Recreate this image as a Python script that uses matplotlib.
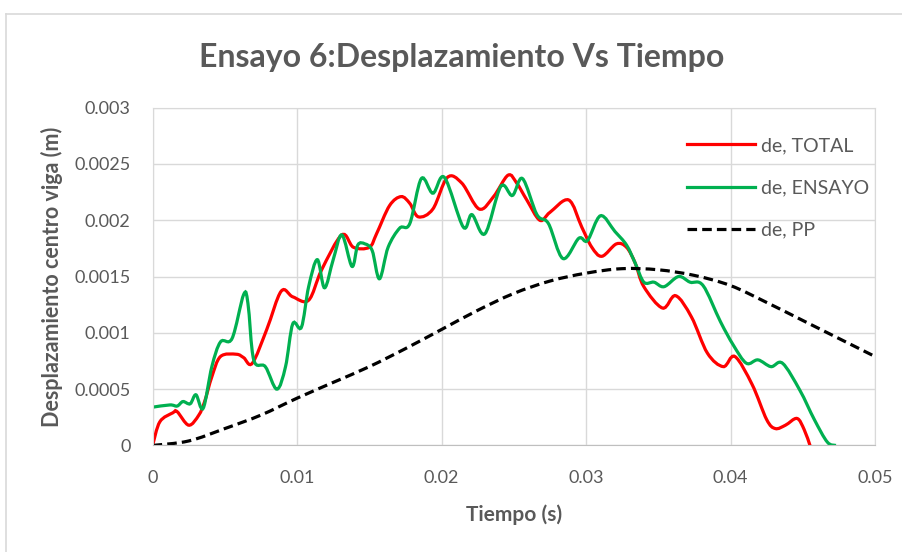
import numpy as np
import matplotlib
matplotlib.use("Agg")
import matplotlib.pyplot as plt
from matplotlib.path import Path
from matplotlib.patches import PathPatch
from matplotlib.lines import Line2D

# --- data ---
t_total = [0, 0.0005, 0.0014, 0.0017, 0.0025, 0.0032, 0.0036, 0.0041, 0.0047, 0.0058,
           0.0063, 0.0069, 0.0079, 0.0089, 0.0097, 0.0108, 0.0117, 0.0131, 0.0139, 0.0150,
           0.0155, 0.0164, 0.0172, 0.0178, 0.0184, 0.0194, 0.0204, 0.0214, 0.0226, 0.0236,
           0.0246, 0.0252, 0.0259, 0.0268, 0.0275, 0.0288, 0.0297, 0.0304, 0.0311, 0.0321,
           0.0328, 0.0334, 0.0340, 0.0353, 0.0362, 0.0373, 0.0384, 0.0395, 0.0403, 0.0415,
           0.0425, 0.0431, 0.0438, 0.0446, 0.0451, 0.0455]
de_total = [0, 0.00021, 0.00029, 0.0003, 0.00018, 0.00027, 0.00039, 0.00061, 0.00079, 0.00081,
            0.00078, 0.00073, 0.00103, 0.00137, 0.00132, 0.00129, 0.00156, 0.00187, 0.00176, 0.00176,
            0.00188, 0.00213, 0.00221, 0.00215, 0.00203, 0.0021, 0.00238, 0.00233, 0.0021, 0.00221,
            0.0024, 0.00233, 0.00218, 0.002, 0.00207, 0.00218, 0.00194, 0.00176, 0.00168, 0.00179,
            0.00176, 0.00162, 0.00141, 0.00122, 0.00133, 0.00114, 0.00082, 0.0007, 0.00079, 0.00054,
            0.00023, 0.00015, 0.00018, 0.00024, 0.00014, 0]

t_ensayo = [0, 0.0012, 0.0017, 0.0021, 0.0026, 0.0030, 0.0035, 0.0041, 0.0047, 0.0055,
            0.0063, 0.0066, 0.0070, 0.0078, 0.0086, 0.0092, 0.0097, 0.0103, 0.0108, 0.0114,
            0.0119, 0.0125, 0.0131, 0.0138, 0.0142, 0.0147, 0.0152, 0.0157, 0.0163, 0.0171,
            0.0178, 0.0186, 0.0194, 0.0202, 0.0215, 0.0221, 0.0230, 0.0241, 0.0249, 0.0256,
            0.0266, 0.0274, 0.0284, 0.0295, 0.0301, 0.0310, 0.0320, 0.0328, 0.0334, 0.0340,
            0.0347, 0.0354, 0.0364, 0.0372, 0.0381, 0.0393, 0.0402, 0.0411, 0.0419, 0.0428,
            0.0436, 0.0448, 0.0458, 0.0467, 0.0473]
de_ensayo = [0.00034, 0.00036, 0.00035, 0.00039, 0.00037, 0.00045, 0.00033, 0.0007, 0.00092, 0.00095,
             0.00134, 0.00126, 0.00076, 0.0007, 0.0005, 0.0007, 0.00108, 0.00105, 0.00141, 0.00165,
             0.0014, 0.00165, 0.00187, 0.00159, 0.00178, 0.00179, 0.00173, 0.00148, 0.00176, 0.00193,
             0.00197, 0.00237, 0.00224, 0.00238, 0.00194, 0.00205, 0.00188, 0.0023, 0.00222, 0.00237,
             0.00205, 0.00197, 0.00166, 0.00184, 0.00182, 0.00204, 0.0019, 0.00178, 0.00162, 0.00145,
             0.00145, 0.00141, 0.0015, 0.00145, 0.00142, 0.0011, 0.00089, 0.00073, 0.00076, 0.0007,
             0.00073, 0.00049, 0.00023, 0.00003, 0]

t_pp = [0, 0.0025, 0.005, 0.0075, 0.01, 0.0125, 0.015, 0.0175, 0.02, 0.0225, 0.025,
        0.0275, 0.03, 0.0325, 0.035, 0.0375, 0.04, 0.0425, 0.045, 0.0475, 0.05]
de_pp = [0, 0.00004, 0.00015, 0.00027, 0.00042, 0.00056, 0.0007, 0.00086, 0.00103, 0.0012, 0.00135,
         0.00146, 0.00153, 0.00157, 0.00156, 0.00151, 0.00142, 0.00127, 0.00111, 0.00095, 0.00079]

x_ticks = [0, 0.01, 0.02, 0.03, 0.04, 0.05]
x_labels = ["0", "0.01", "0.02", "0.03", "0.04", "0.05"]
y_ticks = [0, 0.0005, 0.001, 0.0015, 0.002, 0.0025, 0.003]
y_labels = ["0", "0.0005", "0.001", "0.0015", "0.002", "0.0025", "0.003"]

TEXT = "#595959"
GRID = "#d9d9d9"
plt.rcParams["font.family"] = ["Lato", "DejaVu Sans"]


def smooth_path(x, y):
    # Catmull-Rom style bezier through the points (like Excel's smoothed line)
    pts = np.column_stack([x, y])
    verts = [pts[0]]
    codes = [Path.MOVETO]
    for i in range(len(pts) - 1):
        p0 = pts[i - 1] if i > 0 else pts[i]
        p1, p2 = pts[i], pts[i + 1]
        p3 = pts[i + 2] if i + 2 < len(pts) else p2
        verts += [p1 + (p2 - p0) / 6, p2 - (p3 - p1) / 6, p2]
        codes += [Path.CURVE4] * 3
    return Path(verts, codes)


fig = plt.figure(figsize=(9.03, 5.52), dpi=100)
ax = fig.add_axes([0.169, 0.193, 0.800, 0.612])

series = [
    (t_total, de_total, "#ff0000", "-", "de, TOTAL"),
    (t_ensayo, de_ensayo, "#00b050", "-", "de, ENSAYO"),
    (t_pp, de_pp, "black", (0, (3, 1.6)), "de, PP"),
]
handles = []
for x, y, c, ls, lab in series:
    ax.add_patch(PathPatch(smooth_path(x, y), facecolor="none", edgecolor=c,
                           lw=2.3, linestyle=ls, capstyle="butt"))
    handles.append(Line2D([], [], color=c, lw=2.3, linestyle=ls, label=lab))

ax.set_xlim(0, 0.05)
ax.set_ylim(0, 0.003)
ax.set_xticks(x_ticks)
ax.set_xticklabels(x_labels)
ax.set_yticks(y_ticks)
ax.set_yticklabels(y_labels)
ax.tick_params(axis="both", length=0, labelsize=13, labelcolor=TEXT)
ax.tick_params(axis="x", pad=18)
ax.tick_params(axis="y", pad=16)
ax.grid(True, color=GRID, lw=1)
ax.set_axisbelow(True)
for s in ax.spines.values():
    s.set_color(GRID)
ax.spines["bottom"].set_color("#bfbfbf")

ax.set_xlabel("Tiempo (s)", fontsize=15, fontweight="bold", color=TEXT, labelpad=13)
ax.set_ylabel("Desplazamiento centro viga (m)", fontsize=15.5, fontweight="bold",
              color=TEXT, labelpad=8)
fig.text(0.511, 0.895, "Ensayo 6:Desplazamiento Vs Tiempo", ha="center", va="center",
         fontsize=23, fontweight="bold", color=TEXT)

ax.legend(handles=handles, loc="upper left", bbox_to_anchor=(0.74, 0.913), frameon=False,
          fontsize=14, labelcolor=TEXT, handlelength=3.5, handletextpad=0.3,
          labelspacing=1.3, borderpad=0, borderaxespad=0)

# chart-area border (only top and left are visible in the crop)
fig.add_artist(Line2D([0.0066, 1], [0.9746, 0.9746], color=GRID, lw=1.2))
fig.add_artist(Line2D([0.0066, 0.0066], [0, 0.9746], color=GRID, lw=1.2))

fig.savefig("out.png", dpi=100)
